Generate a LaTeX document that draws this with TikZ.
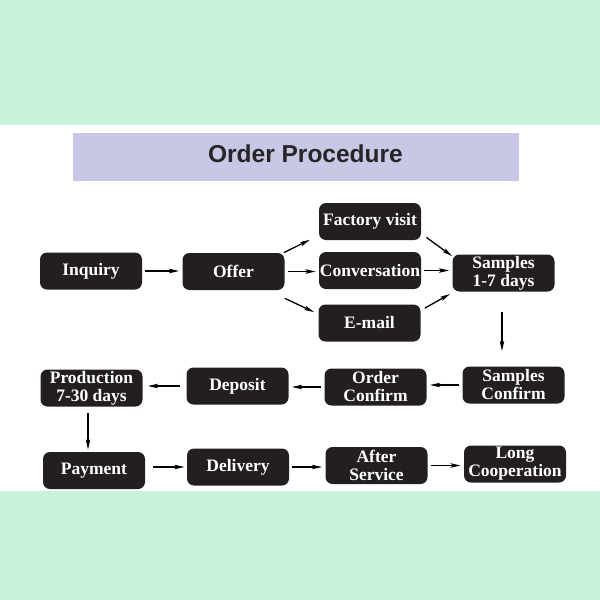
\documentclass[tikz,border=0pt]{standalone}
\usepackage{fontspec}
\setmainfont{Liberation Serif}
\newfontfamily\titlefont{Liberation Sans}
\usetikzlibrary{arrows.meta}
\definecolor{mint}{RGB}{198,243,218}
\definecolor{lavender}{RGB}{200,199,230}
\definecolor{boxblack}{RGB}{35,31,32}
\begin{document}
\begin{tikzpicture}[x=0.5pt,y=-0.5pt,>={Stealth[length=5pt,width=2.2pt,inset=1pt]},
	stepbox/.style={fill=boxblack,rounded corners=3.5pt,minimum width=51pt,minimum height=18.5pt,inner sep=0pt,
		text=white,align=center,font=\fontsize{8.75}{9}\selectfont\bfseries},
	flow/.style={->,line width=0.65pt,shorten <=1.5pt,shorten >=1.5pt}]
		\useasboundingbox (0,0) rectangle (600,600);
		\fill[mint] (0,0) rectangle (600,125);
		\fill[mint] (0,491) rectangle (600,600);
		\fill[lavender] (73,133) rectangle (519,181);
		\node[font=\titlefont\fontsize{12.25}{14}\selectfont\bfseries,text=black!85] (title) at (305.5,153.5){Order Procedure};
		% first row
		\node[stepbox] (inquiry) at (91,271){Inquiry};
		\node[stepbox] (offer) at (233.5,271.5){Offer};
		\node[stepbox] (factory) at (370,221.5){Factory visit};
		\node[stepbox] (conv) at (370,270.5){Conversation};
		\node[stepbox] (email) at (369.5,323){E-mail};
		\node[stepbox] (samples) at (503.5,273){Samples\\1-7 days};
		% second row
		\node[stepbox] (prod) at (91.5,388){Production\\7-30 days};
		\node[stepbox] (deposit) at (237.5,386){Deposit};
		\node[stepbox] (order) at (375.5,387){Order\\Confirm};
		\node[stepbox] (sconfirm) at (513.5,385){Samples\\Confirm};
		% third row
		\node[stepbox] (payment) at (94,470.5){Payment};
		\node[stepbox] (delivery) at (238,467){Delivery};
		\node[stepbox] (after) at (376.5,465.5){After\\Service};
		\node[stepbox] (long) at (515,464){Long\\Cooperation};
		% arrows
		\draw[flow] (inquiry.east) -- (inquiry.east -| offer.west);
		\draw[flow,shorten <=0pt] ([xshift=-0.5pt]offer.north east) -- ([xshift=-3pt,yshift=1pt]factory.south west);
		\draw[flow] (offer.east) -- (offer.east -| conv.west);
		\draw[flow,shorten <=0pt,shorten >=0pt] ([yshift=-4pt]offer.south east) -- ([xshift=-2pt,yshift=-4pt]email.north west);
		\draw[flow,shorten <=0pt,shorten >=0pt] ([xshift=2.5pt,yshift=1.5pt]factory.south east) -- ([yshift=-1pt]samples.north west);
		\draw[flow] (conv.east) -- (conv.east -| samples.west);
		\draw[flow,shorten <=0pt,shorten >=0pt] ([xshift=2pt,yshift=-2pt]email.north east) -- ([xshift=-1pt,yshift=-1pt]samples.south west);
		\draw[flow,shorten <=10pt,shorten >=7.5pt] ([xshift=-0.75pt]samples.south) -- ([xshift=-0.75pt]samples.south |- sconfirm.north);
		\draw[flow] (sconfirm.west) -- (sconfirm.west -| order.east);
		\draw[flow] (order.west) -- (order.west -| deposit.east);
		\draw[flow,shorten <=3pt,shorten >=2.5pt] (deposit.west) -- (deposit.west -| prod.east);
		\draw[flow,shorten <=3pt,shorten >=1pt] ([xshift=-1.75pt]prod.south) -- ([xshift=-1.75pt]prod.south |- payment.north);
		\draw[flow,shorten <=4pt,shorten >=1pt] (delivery.west -| payment.east) -- (delivery.west);
		\draw[flow] (delivery.east) -- (delivery.east -| after.west);
		\draw[flow] (after.east) -- (after.east -| long.west);
\end{tikzpicture}
\end{document}
